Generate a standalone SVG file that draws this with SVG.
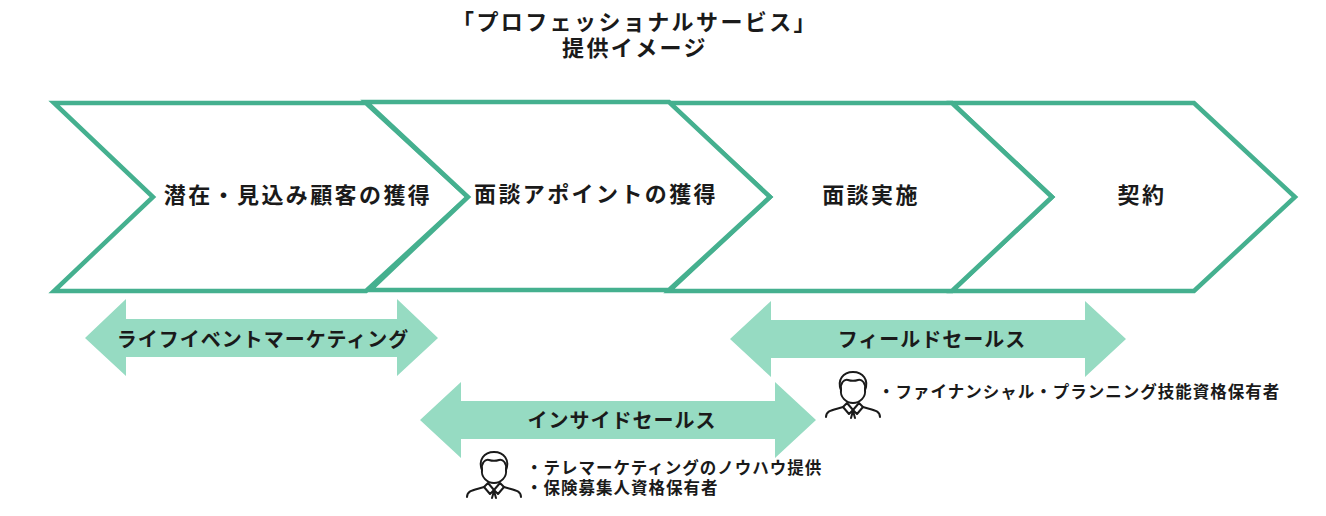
<svg xmlns="http://www.w3.org/2000/svg" width="1326" height="516" viewBox="0 0 1326 516">
<defs>
<style>
text{font-family:"Noto Sans CJK JP","Noto Sans",sans-serif;font-weight:700;fill:#1a1a1a;text-anchor:middle}
.c{fill:#fff;stroke:#45b08f;stroke-width:4.5;stroke-linejoin:miter}
.a{fill:#96dbc2}
.t{font-size:22px;letter-spacing:2.4px}
.m{font-size:22px;letter-spacing:2.4px}
.l{font-size:20px;letter-spacing:1px}
.s{font-size:16.5px;text-anchor:start;letter-spacing:1px}
.p{fill:none;stroke:#1a1a1a;stroke-width:2;stroke-linecap:round;stroke-linejoin:round}
</style>
<g id="person">
<path class="p" d="M6 18C2 8 8 0 18 0C28 0 34 8 30 18"/>
<path class="p" d="M6 18C5 25 11 31 18 31C25 31 31 25 30 18"/>
<path class="p" d="M6 18C5 11 9 7 13 8C16 9 20 9 23 8C27 7 31 11 30 18"/>
<path class="p" d="M-9 45C-9 38 -1 38 8 35L12 31L18 38L24 31L28 35C37 38 45 38 45 45"/>
<path class="p" d="M8 35L14 42L18 38L22 42L28 35M16 46L18 39L20 46"/>
</g>
</defs>
<rect width="1326" height="516" fill="#fff"/>
<g id="title">
<text class="t" x="635" y="30">「プロフェッショナルサービス」</text>
<text class="t" x="635" y="56">提供イメージ</text>
</g>
<g id="connectors">
<path class="a" d="M85 338L126 299V319H397V299L438 338L397 376V357H126V376Z"/>
<path class="a" d="M730 339L771 301V320H1085V301L1126 339L1085 377V358H771V377Z"/>
<path class="a" d="M420 420L461 382V401H775V382L816 420L775 458V439H461V458Z"/>
</g>
<g id="step-1"><path class="c" d="M54 103H366L468 197L366 291H54L153 197Z"/><text class="m" x="298" y="203">潜在・見込み顧客の獲得</text></g>
<g id="step-4"><path class="c" d="M952 103H1194L1295 197L1194 291H952L1052 197Z"/><text class="m" x="1142" y="203">契約</text></g>
<g id="step-3"><path class="c" d="M669 103H952L1052 197L952 291H669L770 197Z"/><text class="m" x="871" y="203">面談実施</text></g>
<g id="step-2"><path class="c" d="M366 102H669L770 197L669 290H370L468 197Z"/><text class="m" x="596" y="202">面談アポイントの獲得</text></g>
<g id="label-life"><text class="l" x="263" y="347">ライフイベントマーケティング</text></g>
<g id="label-field"><text class="l" x="932" y="347">フィールドセールス</text></g>
<g id="label-inside"><text class="l" x="622" y="428">インサイドセールス</text></g>
<g id="person-field"><use href="#person" x="835" y="372"/><text class="s" x="878" y="398">・ファイナンシャル・プランニング技能資格保有者</text></g>
<g id="person-inside"><use href="#person" x="476" y="452"/><text class="s" x="526" y="474">・テレマーケティングのノウハウ提供</text><text class="s" x="526" y="494">・保険募集人資格保有者</text></g>
</svg>
